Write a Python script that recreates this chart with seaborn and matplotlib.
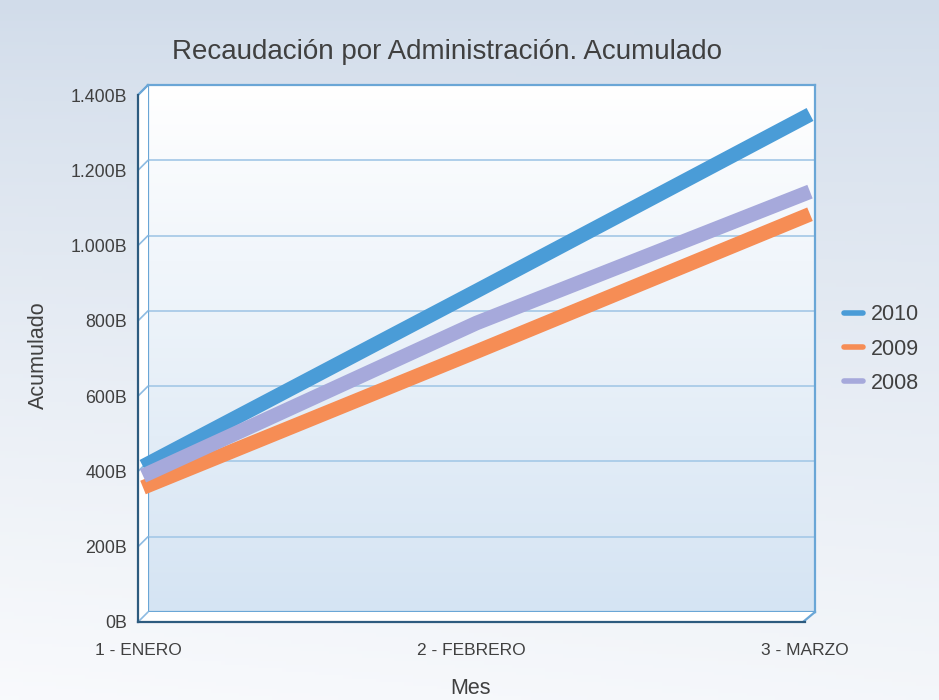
import numpy as np
import pandas as pd
import matplotlib
matplotlib.use("Agg")
import matplotlib.pyplot as plt
import seaborn as sns
from matplotlib.lines import Line2D
from matplotlib.patches import Polygon
from matplotlib.ticker import FuncFormatter

# -----------------------
# Data (miles de millones)
# -----------------------
meses = ["1 - ENERO", "2 - FEBRERO", "3 - MARZO"]
anios = ["2010", "2009", "2008"]
v2010 = [400, 866, 1335]
v2009 = [344, 705, 1070]
v2008 = [375, 781, 1130]
colores = {"2010": "#4a9cd7", "2009": "#f68d55", "2008": "#a6a9db"}

df = pd.DataFrame({
    "Mes": meses * 3,
    "Acumulado": v2010 + v2009 + v2008,
    "Año": [a for a in anios for _ in meses],
})

sns.set_style("white")
plt.rcParams["font.family"] = ["Liberation Sans", "DejaVu Sans"]
TXT = "#404040"

W, H = 939, 700
fig = plt.figure(figsize=(W / 100, H / 100), dpi=100)


def box(x0, y0, x1, y1):
    # pixel box (top-left origin) -> figure fraction rect
    return [x0 / W, 1 - y1 / H, (x1 - x0) / W, (y1 - y0) / H]


def mix(c1, c2, t):
    c1 = np.array(matplotlib.colors.to_rgb(c1))
    c2 = np.array(matplotlib.colors.to_rgb(c2))
    return c1[None, None, :] * (1 - t[..., None]) + c2[None, None, :] * t[..., None]


# -----------------------
# Outer background gradient
# -----------------------
bg = fig.add_axes([0, 0, 1, 1], zorder=-2)
yy, xx = np.mgrid[0:1:200j, 0:1:200j]
s = np.clip(0.85 * yy ** 0.8 + 0.12 * (1 - xx) * yy, 0, 1)
bg.imshow(mix("#d1dcea", "#fafbfd", s), extent=[0, W, H, 0], aspect="auto")
bg.set_xlim(0, W)
bg.set_ylim(H, 0)
bg.axis("off")

# -----------------------
# Back wall (gradient + grid)
# -----------------------
YMAX = 1400
ax_back = fig.add_axes(box(148, 85, 815, 612), zorder=0)
t = np.linspace(0, 1, 200)[:, None] * np.ones((1, 2))
ax_back.imshow(mix("#ffffff", "#d5e4f3", t), extent=[0, 2, 0, YMAX],
               origin="upper", aspect="auto")
ax_back.set_xlim(0, 2)
ax_back.set_ylim(0, YMAX)
ax_back.set_yticks(range(0, YMAX + 1, 200))
ax_back.set_xticks([])
ax_back.yaxis.grid(True, color="#a9cbe8", lw=1.3)
ax_back.tick_params(left=False, labelleft=False)
for sp in ax_back.spines.values():
    sp.set_color("#6aa6d6")
    sp.set_linewidth(1.6)

# -----------------------
# Side wall / floor decoration
# -----------------------
deco = fig.add_axes([0, 0, 1, 1], zorder=0.5)
deco.set_xlim(0, W)
deco.set_ylim(H, 0)
deco.axis("off")
deco.patch.set_alpha(0)
deco.add_patch(Polygon([(138, 95), (148, 85), (148, 612), (138, 622)], color="white", lw=0))
deco.add_patch(Polygon([(138, 622), (148, 612), (815, 612), (803, 622)], color="white", lw=0))
scale = 527 / YMAX
for v in range(0, YMAX + 1, 200):
    deco.plot([138, 148], [622 - v * scale, 612 - v * scale], color="#8dbbe2", lw=1.2)
deco.plot([803, 815], [622, 612], color="#6aa6d6", lw=1.6)
deco.plot([138, 148], [95, 85], color="#6aa6d6", lw=1.6)

# -----------------------
# Lines (mid depth)
# -----------------------
ax = fig.add_axes(box(143, 90, 810, 617), zorder=1)
ax.patch.set_alpha(0)
sns.lineplot(data=df, x="Mes", y="Acumulado", hue="Año", hue_order=anios,
             palette=colores, lw=10.5, sort=False, legend=False, ax=ax)
for ln in ax.lines:
    ln.set_solid_capstyle("butt")
    ln.set_solid_joinstyle("miter")
    ln.set_clip_on(False)
ax.set_xlim(0, 2)
ax.set_ylim(0, YMAX)
ax.axis("off")

# -----------------------
# Front axes (labels)
# -----------------------
ax_front = fig.add_axes(box(138, 95, 805, 622), zorder=2)
ax_front.patch.set_alpha(0)
ax_front.set_xlim(0, 2)
ax_front.set_ylim(0, YMAX)
ax_front.set_xticks([0, 1, 2])
ax_front.set_xticklabels(meses)
ax_front.set_yticks(range(0, YMAX + 1, 200))
ax_front.yaxis.set_major_formatter(FuncFormatter(lambda v, p: f"{int(v):,}".replace(",", ".") + "B"))
ax_front.tick_params(axis="y", length=0, pad=8, labelsize=12.8, labelcolor=TXT)
ax_front.tick_params(axis="x", length=0, pad=15, labelsize=12.5, labelcolor=TXT)
for side in ["top", "right"]:
    ax_front.spines[side].set_visible(False)
for side in ["left", "bottom"]:
    ax_front.spines[side].set_color("#2d5b7f")
    ax_front.spines[side].set_linewidth(1.6)

fig.text(446.5 / W, 1 - 52 / H, "Recaudación por Administración. Acumulado",
         ha="center", va="center", fontsize=20, color=TXT)
fig.text(38 / W, 1 - 355 / H, "Acumulado", rotation=90, ha="center", va="center",
         fontsize=15.5, color=TXT)
fig.text(470 / W, 1 - 689 / H, "Mes", ha="center", va="center", fontsize=15.5, color=TXT)

handles = [Line2D([0], [0], color=colores[a], lw=4) for a in anios]
fig.legend(handles, anios, loc="center left", bbox_to_anchor=(844 / W, 1 - 349 / H),
           frameon=False, fontsize=15.5, handlelength=0.9, handletextpad=0.35,
           labelspacing=0.62, borderpad=0, borderaxespad=0, labelcolor=TXT)

fig.savefig("out.png", dpi=100)
